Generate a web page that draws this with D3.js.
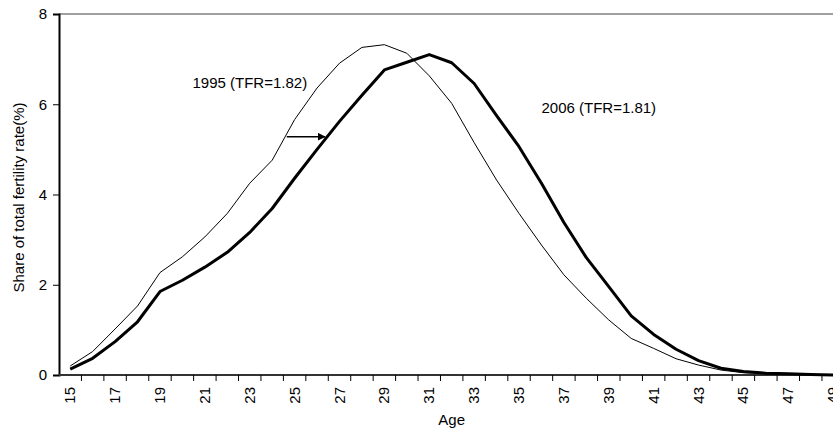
<!DOCTYPE html>
<html>
<head>
<meta charset="utf-8">
<script src="https://cdn.jsdelivr.net/npm/d3@7"></script>
<style>
  html, body { margin: 0; padding: 0; background: #fff; }
  svg { display: block; font-family: "Liberation Sans", Arial, sans-serif; }
</style>
</head>
<body>
<svg id="chart" width="833" height="429"></svg>
<script>
// Age-specific share of total fertility rate (%), single years of age 15-49
const ages = d3.range(15, 50);
const share1995 = [0.20, 0.52, 1.02, 1.53, 2.27, 2.62, 3.06, 3.58, 4.25, 4.76,
                   5.66, 6.36, 6.91, 7.26, 7.32, 7.13, 6.63, 6.02, 5.15, 4.32,
                   3.58, 2.88, 2.22, 1.70, 1.22, 0.81, 0.59, 0.36, 0.22, 0.11,
                   0.05, 0.03, 0.02, 0.01, 0.00];
const share2006 = [0.13, 0.37, 0.74, 1.18, 1.85, 2.10, 2.39, 2.72, 3.16, 3.69,
                   4.36, 5.00, 5.62, 6.20, 6.76, 6.93, 7.10, 6.92, 6.46, 5.75,
                   5.06, 4.25, 3.38, 2.60, 1.96, 1.31, 0.90, 0.57, 0.32, 0.15,
                   0.08, 0.04, 0.03, 0.01, 0.00];
const yTicks = [0, 2, 4, 6, 8];
const xLabelAges = ages.filter(a => a % 2 === 1);

// Series labels and the shift arrow, placed in data units (age, share)
const seriesLabels = [
  { text: "1995 (TFR=1.82)", age: 20.45, value: 6.37 },
  { text: "2006 (TFR=1.81)", age: 36.0, value: 5.8 }
];
const shiftArrow = { fromAge: 24.65, toAge: 26.35, value: 5.28 };

const svg = d3.select("#chart");
const plot = { left: 59, right: 844.4, top: 14, bottom: 375 };

const x = d3.scaleBand().domain(ages).range([plot.left, plot.right]).padding(0);
const cx = a => x(a) + x.bandwidth() / 2;
const xc = d3.scaleLinear().domain([15, 49]).range([cx(15), cx(49)]);
const y = d3.scaleLinear().domain([0, 8]).range([plot.bottom, plot.top]);

// top frame line
svg.append("line")
  .attr("x1", plot.left).attr("x2", plot.right)
  .attr("y1", y(8)).attr("y2", y(8))
  .attr("stroke", "#808080").attr("stroke-width", 1.5);

// y axis
const yAxis = svg.append("g")
  .attr("transform", `translate(${plot.left},0)`)
  .call(d3.axisLeft(y).tickValues(yTicks).tickSize(6).tickPadding(6).tickFormat(d3.format("d")));
yAxis.select(".domain").attr("stroke", "#000").attr("stroke-width", 2);
yAxis.selectAll(".tick line").attr("stroke", "#000").attr("stroke-width", 1);
yAxis.selectAll(".tick text").attr("font-size", 15).attr("fill", "#000")
  .attr("font-family", "'Liberation Sans', Arial, sans-serif");

// x axis: tick marks between categories, labels on odd ages
const xAxisG = svg.append("g");
xAxisG.append("line")
  .attr("x1", plot.left).attr("x2", plot.right)
  .attr("y1", y(0)).attr("y2", y(0))
  .attr("stroke", "#333").attr("stroke-width", 2);
xAxisG.selectAll("line.tick")
  .data(ages.slice(1))
  .join("line").attr("class", "tick")
  .attr("x1", d => x(d)).attr("x2", d => x(d))
  .attr("y1", y(0)).attr("y2", y(0) + 6)
  .attr("stroke", "#000").attr("stroke-width", 1);
xAxisG.selectAll("text")
  .data(xLabelAges)
  .join("text")
  .attr("transform", d => `translate(${cx(d) + 5},${y(0) + 12}) rotate(-90)`)
  .attr("text-anchor", "end")
  .attr("font-size", 15)
  .attr("fill", "#000")
  .text(d => d);

// axis titles
svg.append("text")
  .attr("x", (plot.left + plot.right) / 2).attr("y", 425)
  .attr("text-anchor", "middle").attr("font-size", 15).attr("fill", "#000")
  .text("Age");
svg.append("text")
  .attr("transform", `translate(24,${(plot.top + plot.bottom) / 2 + 3}) rotate(-90)`)
  .attr("text-anchor", "middle").attr("font-size", 15).attr("fill", "#000")
  .text("Share of total fertility rate(%)");

// series lines
const line = d3.line().x(d => cx(d[0])).y(d => y(d[1]));
svg.append("path")
  .datum(ages.map((a, i) => [a, share1995[i]]))
  .attr("d", line).attr("fill", "none")
  .attr("stroke", "#000").attr("stroke-width", 1)
  .attr("stroke-linejoin", "round");
svg.append("path")
  .datum(ages.map((a, i) => [a, share2006[i]]))
  .attr("d", line).attr("fill", "none")
  .attr("stroke", "#000").attr("stroke-width", 3)
  .attr("stroke-linejoin", "round");

// series labels
svg.selectAll("text.series")
  .data(seriesLabels)
  .join("text").attr("class", "series")
  .attr("x", d => xc(d.age)).attr("y", d => y(d.value))
  .attr("font-size", 15).attr("fill", "#000")
  .text(d => d.text);

// shift arrow
svg.append("defs").append("marker")
  .attr("id", "arrowhead")
  .attr("viewBox", "0 0 10 10").attr("refX", 9).attr("refY", 5)
  .attr("markerWidth", 5).attr("markerHeight", 5)
  .attr("markerUnits", "strokeWidth")
  .attr("orient", "auto")
  .append("path").attr("d", "M0,0 L10,5 L0,10 Z").attr("fill", "#000");
svg.append("line")
  .attr("x1", xc(shiftArrow.fromAge)).attr("x2", xc(shiftArrow.toAge))
  .attr("y1", y(shiftArrow.value)).attr("y2", y(shiftArrow.value))
  .attr("stroke", "#000").attr("stroke-width", 1.6)
  .attr("marker-end", "url(#arrowhead)");
</script>
</body>
</html>
